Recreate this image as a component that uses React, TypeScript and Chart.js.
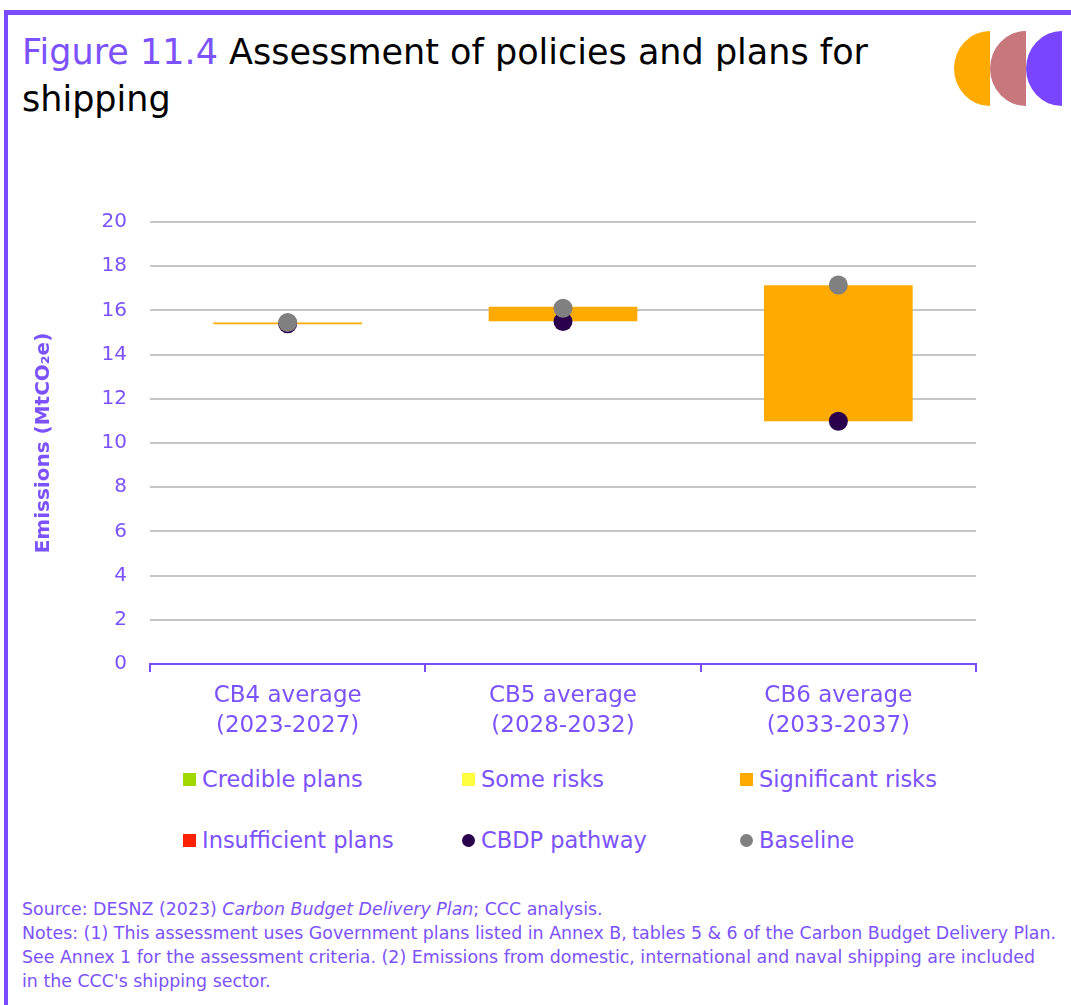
import React, { useEffect, useRef } from "react";
import { Chart, registerables } from "chart.js";

Chart.register(...registerables);

// ---- Data ----
const categories: string[][] = [
  ["CB4 average", "(2023-2027)"],
  ["CB5 average", "(2028-2032)"],
  ["CB6 average", "(2033-2037)"],
];
const significantRisksLow = [15.37, 15.51, 10.98];
const significantRisksHigh = [15.45, 16.16, 17.14];
const cbdpPathway = [15.4, 15.5, 10.98];
const baseline = [15.45, 16.1, 17.15];
const emptySeries: (number | null)[] = [null, null, null];
const yMin = 0;
const yMax = 20;
const yStep = 2;

const legendLabels = [
  "Credible plans",
  "Some risks",
  "Significant risks",
  "Insufficient plans",
  "CBDP pathway",
  "Baseline",
];

// ---- Styles ----
const PURPLE = "#7A4BFF";
const TEXT_PURPLE = "#7C52FF";
const FONT = "'DejaVu Sans', sans-serif";
const legendColors = ["#A0D800", "#FFFF40", "#FFAA00", "#FF2200", "#2A004D", "#808080"];
const legendShapes = ["square", "square", "square", "square", "circle", "circle"];

export default function App() {
  const canvasRef = useRef<HTMLCanvasElement | null>(null);

  useEffect(() => {
    if (!canvasRef.current) return;
    const ranges = significantRisksLow.map((lo, i) => [lo, significantRisksHigh[i]]);
    const chart = new Chart(canvasRef.current, {
      type: "bar",
      data: {
        labels: categories,
        datasets: [
          {
            type: "line",
            label: legendLabels[5],
            data: baseline,
            showLine: false,
            pointRadius: 9.5,
            pointHoverRadius: 9.5,
            pointBackgroundColor: legendColors[5],
            pointBorderWidth: 0,
            borderColor: legendColors[5],
            backgroundColor: legendColors[5],
            order: 1,
          } as any,
          {
            type: "line",
            label: legendLabels[4],
            data: cbdpPathway,
            showLine: false,
            pointRadius: 9.5,
            pointHoverRadius: 9.5,
            pointBackgroundColor: legendColors[4],
            pointBorderWidth: 0,
            borderColor: legendColors[4],
            backgroundColor: legendColors[4],
            order: 2,
          } as any,
          {
            label: legendLabels[0],
            data: emptySeries,
            backgroundColor: legendColors[0],
            grouped: false,
            order: 3,
          } as any,
          {
            label: legendLabels[1],
            data: emptySeries,
            backgroundColor: legendColors[1],
            grouped: false,
            order: 3,
          } as any,
          {
            label: legendLabels[2],
            data: ranges,
            backgroundColor: legendColors[2],
            grouped: false,
            borderSkipped: false,
            order: 3,
          } as any,
          {
            label: legendLabels[3],
            data: emptySeries,
            backgroundColor: legendColors[3],
            grouped: false,
            order: 3,
          } as any,
        ],
      },
      options: {
        animation: false,
        responsive: true,
        maintainAspectRatio: false,
        datasets: {
          bar: { categoryPercentage: 1, barPercentage: 0.54 },
        } as any,
        layout: { padding: { left: 0, right: 95, top: 31, bottom: 0 } },
        plugins: {
          legend: { display: false },
          tooltip: { enabled: false },
        },
        scales: {
          x: {
            offset: true,
            grid: {
              display: true,
              drawOnChartArea: false,
              drawTicks: true,
              tickLength: 8,
              color: PURPLE,
              lineWidth: 2,
              offset: true,
            },
            border: { display: true, color: PURPLE, width: 2 },
            ticks: {
              color: TEXT_PURPLE,
              font: { family: FONT, size: 23, lineHeight: 1.3 },
              padding: 9,
              maxRotation: 0,
              autoSkip: false,
            },
            afterFit: (s: any) => {
              s.height = 73;
            },
          },
          y: {
            min: yMin,
            max: yMax,
            grid: {
              drawTicks: false,
              color: (ctx: any) => (ctx.tick && ctx.tick.value === 0 ? "rgba(0,0,0,0)" : "#C6C6C6"),
              lineWidth: 2,
            },
            border: { display: false },
            ticks: {
              stepSize: yStep,
              color: TEXT_PURPLE,
              font: { family: FONT, size: 20 },
              padding: 23,
            },
            title: {
              display: true,
              text: "Emissions (MtCO₂e)",
              color: TEXT_PURPLE,
              font: { family: FONT, size: 20, weight: "bold" },
              padding: { top: 32, bottom: 0 },
            },
            afterFit: (s: any) => {
              s.width = 150;
            },
          },
        },
      },
    });
    return () => chart.destroy();
  }, []);

  const legendCols = [183, 462, 740];
  const legendRows = [780, 841];

  return (
    <div
      style={{
        position: "absolute",
        left: 0,
        top: 0,
        width: 1071,
        height: 1005,
        background: "#fff",
        overflow: "hidden",
        fontFamily: FONT,
      }}
    >
      {/* frame */}
      <div style={{ position: "absolute", left: 4, top: 10, width: 1067, height: 5, background: PURPLE }} />
      <div style={{ position: "absolute", left: 4, top: 10, width: 4, height: 995, background: PURPLE }} />

      {/* title */}
      <div
        style={{
          position: "absolute",
          left: 22,
          top: 29,
          width: 920,
          fontSize: 35,
          lineHeight: "47px",
          color: "#000",
          whiteSpace: "nowrap",
        }}
      >
        <span style={{ color: TEXT_PURPLE }}>Figure 11.4</span> Assessment of policies and plans for
        <br />
        shipping
      </div>

      {/* logo */}
      {["#FFAA00", "#C8777D", "#7A45FF"].map((c, i) => (
        <div
          key={i}
          style={{
            position: "absolute",
            left: 954 + i * 36,
            top: 31,
            width: 36,
            height: 75,
            background: c,
            borderRadius: "100% 0 0 100% / 50% 0 0 50%",
          }}
        />
      ))}

      {/* chart */}
      <div style={{ position: "absolute", left: 0, top: 187, width: 1071, height: 550 }}>
        <canvas ref={canvasRef} />
      </div>

      {/* legend */}
      {legendLabels.map((label, i) => {
        const col = i % 3;
        const row = Math.floor(i / 3);
        const x = legendCols[col];
        const y = legendRows[row];
        const isCircle = legendShapes[i] === "circle";
        return (
          <div key={label}>
            <div
              style={{
                position: "absolute",
                left: x,
                top: y - 7,
                width: 13,
                height: 13,
                background: legendColors[i],
                borderRadius: isCircle ? "50%" : 0,
              }}
            />
            <div
              style={{
                position: "absolute",
                left: x + 19,
                top: y - 16,
                fontSize: 22.5,
                lineHeight: "30px",
                color: TEXT_PURPLE,
                whiteSpace: "nowrap",
              }}
            >
              {label}
            </div>
          </div>
        );
      })}

      {/* footnotes */}
      <div
        style={{
          position: "absolute",
          left: 22,
          top: 897,
          width: 1045,
          fontSize: 17.4,
          lineHeight: "24px",
          color: TEXT_PURPLE,
        }}
      >
        <div>
          Source: DESNZ (2023) <i>Carbon Budget Delivery Plan</i>; CCC analysis.
        </div>
        <div style={{ whiteSpace: "nowrap" }}>
          Notes: (1) This assessment uses Government plans listed in Annex B, tables 5 &amp; 6 of the Carbon Budget Delivery Plan.
        </div>
        <div style={{ whiteSpace: "nowrap" }}>
          See Annex 1 for the assessment criteria. (2) Emissions from domestic, international and naval shipping are included
        </div>
        <div>in the CCC's shipping sector.</div>
      </div>
    </div>
  );
}
